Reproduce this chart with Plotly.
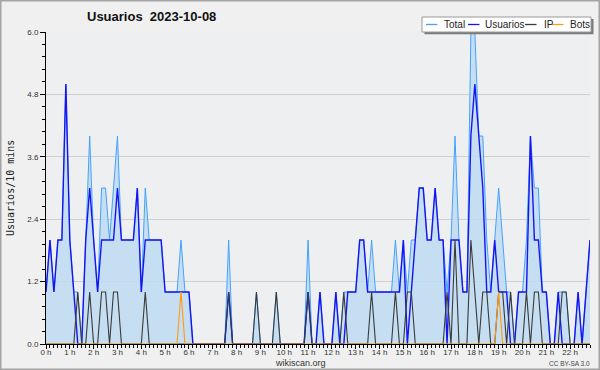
import plotly.graph_objects as go

# 10-minute slots from 00:00 to 22:50
slot_minutes = list(range(0, 138 * 10, 10))

total = [1, 2, 1, 2, 2, 5, 2, 1, 1, 0, 2, 4, 2, 1, 3, 3, 2, 3, 4, 2,
         2, 2, 2, 3, 1, 3, 2, 2, 2, 2, 1, 1, 1, 1, 2, 1, 1, 0, 0, 0,
         0, 0, 0, 0, 0, 0, 2, 0, 0, 0, 0, 0, 0, 1, 0, 0, 0, 0, 1, 0,
         0, 0, 0, 0, 0, 0, 2, 0, 0, 1, 0, 0, 0, 1, 0, 1, 1, 1, 1, 2,
         2, 1, 2, 1, 1, 1, 1, 1, 2, 1, 2, 1, 2, 2, 3, 3, 2, 2, 3, 2,
         2, 1, 2, 4, 2, 1, 1, 6, 6, 4, 4, 2, 1, 2, 3, 2, 1, 1, 0, 1,
         1, 2, 4, 3, 3, 1, 1, 0, 0, 1, 1, 1, 0, 0, 1, 0, 1, 2]

usuarios = [1, 2, 1, 2, 2, 5, 2, 1, 0, 0, 2, 3, 2, 1, 2, 2, 2, 2, 3, 2,
            2, 2, 2, 3, 1, 2, 2, 2, 2, 2, 1, 1, 1, 1, 1, 1, 1, 0, 0, 0,
            0, 0, 0, 0, 0, 0, 1, 0, 0, 0, 0, 0, 0, 0, 0, 0, 0, 0, 0, 0,
            0, 0, 0, 0, 0, 0, 1, 0, 0, 1, 0, 0, 0, 1, 0, 0, 1, 1, 1, 2,
            2, 1, 1, 1, 1, 1, 1, 1, 1, 1, 2, 0, 1, 2, 3, 3, 2, 2, 3, 2,
            2, 0, 2, 2, 2, 1, 1, 4, 5, 4, 3, 1, 1, 2, 1, 1, 1, 0, 0, 1,
            1, 1, 4, 2, 2, 1, 1, 0, 0, 1, 0, 0, 0, 0, 1, 0, 1, 2]

ip = [0, 0, 0, 0, 0, 0, 0, 0, 1, 0, 0, 1, 0, 0, 1, 1, 0, 1, 1, 0,
      0, 0, 0, 0, 0, 1, 0, 0, 0, 0, 0, 0, 0, 0, 0, 0, 0, 0, 0, 0,
      0, 0, 0, 0, 0, 0, 1, 0, 0, 0, 0, 0, 0, 1, 0, 0, 0, 0, 1, 0,
      0, 0, 0, 0, 0, 0, 1, 0, 0, 0, 0, 0, 0, 0, 0, 1, 0, 0, 0, 0,
      0, 0, 1, 0, 0, 0, 0, 0, 1, 0, 0, 1, 1, 0, 0, 0, 0, 0, 0, 0,
      0, 1, 0, 2, 0, 0, 0, 2, 1, 0, 1, 1, 0, 0, 1, 1, 0, 1, 0, 0,
      0, 1, 0, 1, 1, 0, 0, 0, 0, 0, 1, 1, 0, 0, 0, 0, 0, 0]

bots = [0] * 34 + [1] + [0] * 79 + [1] + [0] * 23

hour_labels = ["%d h" % h for h in range(23)]
y_ticks = [0.0, 1.2, 2.4, 3.6, 4.8, 6.0]

title_text = "Usuarios  2023-10-08"
y_title = "Usuarios/10 mins"
series_names = ["Total", "Usuarios", "IP", "Bots"]
series_colors = ["#45a2ff", "#1515f2", "#3a3a3a", "#ff9a10"]

x_hours = [m / 60 for m in slot_minutes]

fig = go.Figure()
fig.add_trace(go.Scatter(x=x_hours, y=total, mode="lines", name="Total",
                         line=dict(color=series_colors[0], width=1),
                         fill="tozeroy", fillcolor="rgba(190,218,242,0.85)"))
fig.add_trace(go.Scatter(x=x_hours, y=usuarios, mode="lines", name="Usuarios",
                         line=dict(color=series_colors[1], width=1.4)))
fig.add_trace(go.Scatter(x=x_hours, y=ip, mode="lines", name="IP",
                         line=dict(color=series_colors[2], width=1.1)))
fig.add_trace(go.Scatter(x=x_hours, y=bots, mode="lines", name="Bots",
                         line=dict(color=series_colors[3], width=1.1)))

L, R, T, B, W, H = 46, 10, 32, 26, 600, 370
PW, PH = W - L - R, H - T - B


def px(x):
    return (x - L) / PW


def py(y):
    return (H - B - y) / PH


shapes = []
annotations = []

# outer border
shapes.append(dict(type="rect", xref="paper", yref="paper",
                   x0=px(0.75), x1=px(599.25), y0=py(0.75), y1=py(369.25),
                   line=dict(color="#a4a4a4", width=1.5), fillcolor="rgba(0,0,0,0)",
                   layer="above"))

# legend box with shadow
shapes.append(dict(type="rect", xref="paper", yref="paper",
                   x0=px(424.5), x1=px(593.5), y0=py(19), y1=py(34.3),
                   line=dict(width=0), fillcolor="#7a7a7a", layer="above"))
shapes.append(dict(type="rect", xref="paper", yref="paper",
                   x0=px(422), x1=px(591), y0=py(17), y1=py(32),
                   line=dict(color="#9a9a9a", width=1), fillcolor="#ffffff", layer="above"))
leg_items = [(426, 441.5), (468, 483), (525, 541.5), (552, 568)]
for (lx, tx), name, col in zip(leg_items, series_names, series_colors):
    shapes.append(dict(type="line", xref="paper", yref="paper",
                       x0=px(lx), x1=px(lx + 11.5), y0=py(24.5), y1=py(24.5),
                       line=dict(color=col, width=1.3), layer="above"))
    annotations.append(dict(text=name, xref="paper", yref="paper",
                            x=px(tx), y=py(24.5), xanchor="left", yanchor="middle",
                            showarrow=False, font=dict(size=10, color="#222222")))

annotations.append(dict(text="<b>%s</b>" % title_text, xref="paper", yref="paper",
                        x=px(151), y=py(16.5), xanchor="center", yanchor="middle",
                        showarrow=False, font=dict(size=13, color="#111111")))
annotations.append(dict(text=y_title, xref="paper", yref="paper",
                        x=px(10), y=py(188), xanchor="center", yanchor="middle",
                        textangle=-90, showarrow=False,
                        font=dict(family="DejaVu Sans Mono", size=10, color="#222222")))
annotations.append(dict(text="wikiscan.org", xref="paper", yref="paper",
                        x=px(300), y=py(362.5), xanchor="center", yanchor="middle",
                        showarrow=False, font=dict(size=9, color="#333333")))
annotations.append(dict(text="CC BY-SA 3.0", xref="paper", yref="paper",
                        x=px(569), y=py(363), xanchor="center", yanchor="middle",
                        showarrow=False, font=dict(size=6.5, color="#444444")))

fig.update_layout(
    width=W, height=H,
    margin=dict(l=L, r=R, t=T, b=B, pad=0),
    paper_bgcolor="#f0f0f0", plot_bgcolor="#eeeff0",
    font=dict(family="Liberation Sans", size=8, color="#333333"),
    showlegend=False,
    shapes=shapes, annotations=annotations,
    xaxis=dict(range=[0, slot_minutes[-1] / 60], tickmode="array",
               tickvals=list(range(23)), ticktext=hour_labels,
               ticks="outside", ticklen=4, tickwidth=1, tickcolor="#000000",
               ticklabelstandoff=-4,
               showline=True, linecolor="#000000", linewidth=1,
               showgrid=False, zeroline=False,
               tickfont=dict(size=8, color="#333333"),
               minor=dict(tickmode="linear", tick0=0, dtick=1 / 6, ticks="outside",
                          ticklen=3, tickcolor="#000000", showgrid=False)),
    yaxis=dict(range=[0, 6], tickmode="array", tickvals=y_ticks,
               ticktext=["%.1f" % v for v in y_ticks],
               ticks="outside", ticklen=5, tickwidth=1, tickcolor="#000000",
               showline=True, linecolor="#000000", linewidth=1,
               showgrid=True, gridcolor="#cfcfcf", gridwidth=1, zeroline=False,
               tickfont=dict(size=8, color="#333333"),
               minor=dict(tickmode="linear", tick0=0, dtick=0.24, ticks="outside",
                          ticklen=3, tickcolor="#000000", showgrid=False)),
)

fig.write_html("out.html", config={"displayModeBar": False},
               post_script="document.body.style.margin='0';document.body.style.overflow='hidden';")
